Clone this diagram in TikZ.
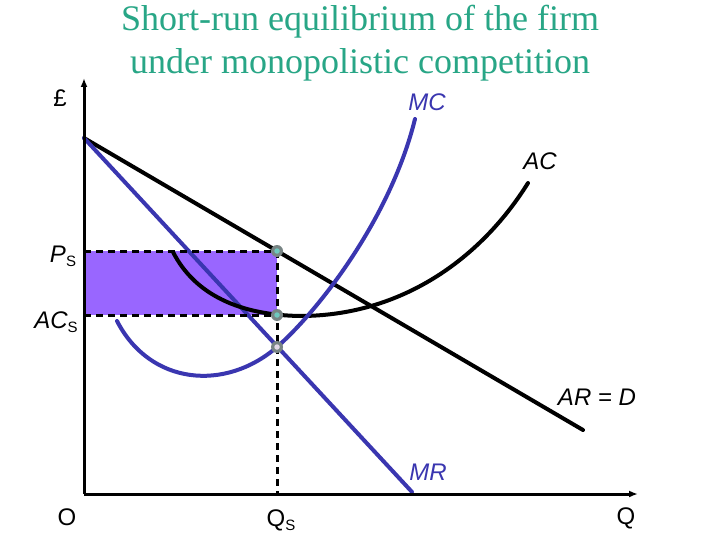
\documentclass[tikz,border=0pt]{standalone}
\usepackage{fontspec}
\setmainfont{Liberation Sans}
\newfontfamily\titlefont{Liberation Serif}
\usetikzlibrary{arrows.meta}
\definecolor{curveblue}{RGB}{58,54,176}
\definecolor{titlegreen}{RGB}{40,166,134}
\definecolor{rectfill}{RGB}{153,102,255}
\definecolor{dotgray}{RGB}{120,132,132}
\definecolor{dotteal}{RGB}{110,200,190}
\definecolor{dotpale}{RGB}{225,215,230}
\tikzset{
  axis/.style={line width=3pt,-{Latex[length=9pt,width=7pt]}},
  curveb/.style={line width=4pt,curveblue,line cap=round},
  curvek/.style={line width=4pt,black,line cap=round},
  guide/.style={line width=3pt,dash pattern=on 7pt off 5pt},
  lbl/.style={font=\fontsize{24}{28}\selectfont,inner sep=0pt},
  titletext/.style={titlegreen,font=\titlefont\fontsize{36}{42}\selectfont,anchor=base,inner sep=0pt},
  dotmark/.style={circle,fill=dotgray,minimum size=12pt,inner sep=0pt},
  dotcore/.style={circle,minimum size=5.5pt,inner sep=0pt},
}
\begin{document}
\begin{tikzpicture}[x=1pt,y=-1pt]
\useasboundingbox[fill=white] (0,0) rectangle (720,540);
% title
\node[titletext] (title1) at (360,31) {Short-run equilibrium of the firm};
\node[titletext] (title2) at (360,74) {under monopolistic competition};
% coordinates
\coordinate (O) at (84,494);
\coordinate (ytop) at (84,78);
\coordinate (xend) at (638,494);
\coordinate (P) at (277,251);
\coordinate (A) at (277,315);
\coordinate (M) at (277,347);
\coordinate (PL) at (84,251);
\coordinate (AL) at (84,315);
\coordinate (QB) at (277,494);
\coordinate (Dstart) at (84,138);
\coordinate (Dend) at (583,430);
\coordinate (MRend) at (412,492);
% rectangle
\fill[rectfill] (AL) rectangle (P);
% curves
\draw[curvek] (Dstart) -- (Dend);
\draw[curveb] (Dstart) -- (MRend);
\draw[curvek] (173,252) .. controls (195,295) and (240,315) .. (300,316)
   .. controls (400,316) and (480,260) .. (528,183);
\draw[curveb] (117,321) .. controls (150,385) and (225,392) .. (M)
   .. controls (317,312) and (390,220) .. (415,119);
% guides
\draw[guide] (PL) -- (P);
\draw[guide] (AL) -- (A);
\draw[guide] (P) -- (QB);
% axes
\draw[axis] (O) -- (ytop);
\draw[axis] (O) -- (xend);
% dots
\node[dotmark] (dP) at (P) {};
\node[dotcore,fill=dotteal] (cP) at (P) {};
\node[dotmark] (dA) at (A) {};
\node[dotcore,fill=dotteal] (cA) at (A) {};
\node[dotmark] (dM) at (M) {};
\node[dotcore,fill=dotpale] (cM) at (M) {};
% labels
\node[lbl] (pound) at (60,98) {£};
\node[lbl,curveblue] (lMC) at (427,102) {\itshape MC};
\node[lbl] (lAC) at (540,161) {\itshape AC};
\node[lbl] (lAR) at (597,397) {\itshape AR = D};
\node[lbl,curveblue] (lMR) at (428,472) {\itshape MR};
\node[lbl] (lO) at (67,517) {O};
\node[lbl] (lQ) at (626,518) {Q};
\node[lbl,anchor=base] (lQS) at (281,526) {Q\raisebox{-0.35ex}{\fontsize{15}{16}\selectfont S}};
\node[lbl,anchor=base] (lPS) at (63,262) {\itshape P\raisebox{-0.35ex}{\upshape\fontsize{15}{16}\selectfont S}};
\node[lbl,anchor=base] (lACS) at (56,328) {\itshape AC\raisebox{-0.35ex}{\upshape\fontsize{15}{16}\selectfont S}};
\end{tikzpicture}
\end{document}
